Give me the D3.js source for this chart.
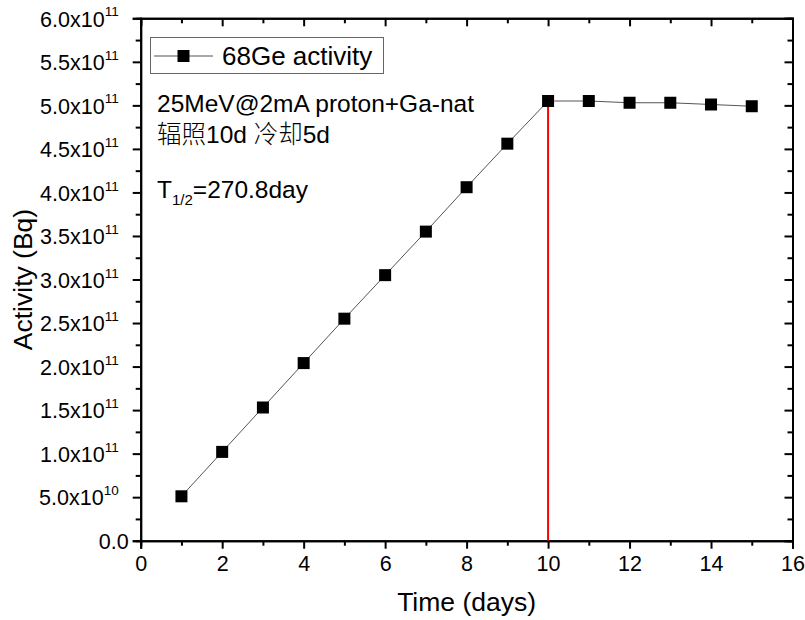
<!DOCTYPE html>
<html lang="en">
<head>
    <meta charset="UTF-8">
    <title>68Ge activity</title>
    <script src="https://d3js.org/d3.v7.min.js"></script>
</head>
<style>
    body {
        margin: 0;
        padding: 0;
        background: #fff;
    }
    svg {
        display: block;
        font-family: Arial, "Liberation Sans", sans-serif;
    }
</style>
<body>
<div class="chart"></div>
<script>
  /** data */
  var days = [1, 2, 3, 4, 5, 6, 7, 8, 9, 10, 11, 12, 13, 14, 15];
  var activity = [0.51e11, 1.02e11, 1.53e11, 2.04e11, 2.55e11, 3.05e11, 3.55e11, 4.06e11,
                  4.56e11, 5.05e11, 5.05e11, 5.03e11, 5.03e11, 5.01e11, 4.99e11];
  var xTicks = [0, 2, 4, 6, 8, 10, 12, 14, 16];
  var yTicks = [0, 0.5e11, 1e11, 1.5e11, 2e11, 2.5e11, 3e11, 3.5e11, 4e11, 4.5e11, 5e11, 5.5e11, 6e11];
  var endOfIrradiation = 10;

  var width = 805, height = 620;
  var plotLeft = 140.7, plotRight = 792.5, plotTop = 18.3, plotBottom = 540.7;

  var svg = d3.select('.chart').append('svg')
    .attr('width', width)
    .attr('height', height);

  var x = d3.scaleLinear().domain([0, 16]).range([plotLeft, plotRight]);
  var y = d3.scaleLinear().domain([0, 6e11]).range([plotBottom, plotTop]);

  var xMinor = d3.range(1, 16, 2);
  var yMinor = d3.range(0.25e11, 6e11, 0.5e11);

  /** y tick labels in the form 5.0x10^11 */
  function yLabel(d) {
    if (d === 0) return ['0.0', ''];
    var exp = Math.floor(Math.log10(d) + 1e-9);
    var mant = d / Math.pow(10, exp);
    return [mant.toFixed(1) + 'x10', String(exp)];
  }

  /** bottom axis */
  svg.append('g')
    .attr('transform', 'translate(0,' + plotBottom + ')')
    .call(d3.axisBottom(x).tickValues(xTicks).tickSize(8).tickPadding(7).tickFormat(d3.format('d')));
  svg.append('g')
    .attr('transform', 'translate(0,' + plotBottom + ')')
    .call(d3.axisBottom(x).tickValues(xMinor).tickSize(5).tickFormat(''));

  /** left axis */
  var gy = svg.append('g')
    .attr('transform', 'translate(' + plotLeft + ',0)')
    .call(d3.axisLeft(y).tickValues(yTicks).tickSize(8).tickPadding(7).tickFormat(''));
  svg.append('g')
    .attr('transform', 'translate(' + plotLeft + ',0)')
    .call(d3.axisLeft(y).tickValues(yMinor).tickSize(5).tickFormat(''));

  gy.selectAll('.tick text').each(function (d) {
    var parts = yLabel(d);
    var t = d3.select(this).attr('dy', '0.36em').attr('x', -22);
    t.append('tspan').text(parts[0]);
    t.append('tspan').attr('font-size', 13.5).attr('dy', '-0.75em').text(parts[1]);
  });
  gy.selectAll('.tick text').filter(function (d) { return d === 0; }).attr('x', -12);

  /** top and right axes: ticks inward, no labels */
  svg.append('g')
    .attr('transform', 'translate(0,' + plotTop + ')')
    .call(d3.axisBottom(x).tickValues(xTicks).tickSize(8).tickFormat(''));
  svg.append('g')
    .attr('transform', 'translate(0,' + plotTop + ')')
    .call(d3.axisBottom(x).tickValues(xMinor).tickSize(5).tickFormat(''));
  svg.append('g')
    .attr('transform', 'translate(' + plotRight + ',0)')
    .call(d3.axisLeft(y).tickValues(yTicks).tickSize(8).tickFormat(''));
  svg.append('g')
    .attr('transform', 'translate(' + plotRight + ',0)')
    .call(d3.axisLeft(y).tickValues(yMinor).tickSize(5).tickFormat(''));

  svg.selectAll('.domain').attr('stroke', '#000').attr('stroke-width', 2);
  svg.selectAll('.tick line').attr('stroke', '#000').attr('stroke-width', 2);
  svg.selectAll('.tick text')
    .attr('fill', '#000')
    .attr('font-size', 21.5)
    .attr('font-family', 'Arial, "Liberation Sans", sans-serif');

  /** red line at end of irradiation */
  var peakIdx = days.indexOf(endOfIrradiation);
  svg.append('line')
    .attr('x1', x(endOfIrradiation)).attr('x2', x(endOfIrradiation))
    .attr('y1', y(0)).attr('y2', y(activity[peakIdx]))
    .attr('stroke', '#ff0000')
    .attr('stroke-width', 2);

  /** data line + markers */
  var pts = days.map(function (d, i) { return [d, activity[i]]; });
  svg.append('path')
    .datum(pts)
    .attr('fill', 'none')
    .attr('stroke', '#555')
    .attr('stroke-width', 1)
    .attr('d', d3.line().x(function (d) { return x(d[0]); }).y(function (d) { return y(d[1]); }));

  var sq = 12;
  svg.selectAll('.marker')
    .data(pts)
    .enter().append('rect')
    .attr('class', 'marker')
    .attr('x', function (d) { return x(d[0]) - sq / 2; })
    .attr('y', function (d) { return y(d[1]) - sq / 2; })
    .attr('width', sq)
    .attr('height', sq)
    .attr('fill', '#000');

  /** legend */
  var legend = svg.append('g');
  legend.append('rect')
    .attr('x', 150.5).attr('y', 37.5)
    .attr('width', 233).attr('height', 36)
    .attr('fill', '#fff')
    .attr('stroke', '#666')
    .attr('stroke-width', 1);
  legend.append('line')
    .attr('x1', 154).attr('x2', 213).attr('y1', 56).attr('y2', 56)
    .attr('stroke', '#555').attr('stroke-width', 1);
  legend.append('rect')
    .attr('x', 177.5).attr('y', 50).attr('width', sq).attr('height', sq)
    .attr('fill', '#000');
  legend.append('text')
    .attr('x', 222).attr('y', 65)
    .attr('font-size', 26)
    .text('68Ge activity');

  /** annotations */
  svg.append('text')
    .attr('x', 157).attr('y', 112)
    .attr('font-size', 24.5)
    .text('25MeV@2mA proton+Ga-nat');
  var cn = svg.append('text')
    .attr('x', 157).attr('y', 143)
    .attr('font-size', 24.5);
  cn.append('tspan').attr('font-family', '"Noto Sans CJK SC"').attr('font-weight', 300).text('辐照');
  cn.append('tspan').text('10d ');
  cn.append('tspan').attr('font-family', '"Noto Sans CJK SC"').attr('font-weight', 300).text('冷却');
  cn.append('tspan').text('5d');

  var half = svg.append('text')
    .attr('x', 157).attr('y', 198)
    .attr('font-size', 24.5);
  half.append('tspan').text('T');
  half.append('tspan').attr('font-size', 15).attr('dy', 7).text('1/2');
  half.append('tspan').attr('dy', -7).text('=270.8day');

  /** axis titles */
  svg.append('text')
    .attr('x', (plotLeft + plotRight) / 2)
    .attr('y', 611)
    .attr('text-anchor', 'middle')
    .attr('font-size', 26.5)
    .text('Time (days)');
  svg.append('text')
    .attr('transform', 'translate(32,' + (plotTop + plotBottom) / 2 + ') rotate(-90)')
    .attr('text-anchor', 'middle')
    .attr('font-size', 26.5)
    .text('Activity (Bq)');
</script>
</body>
</html>
